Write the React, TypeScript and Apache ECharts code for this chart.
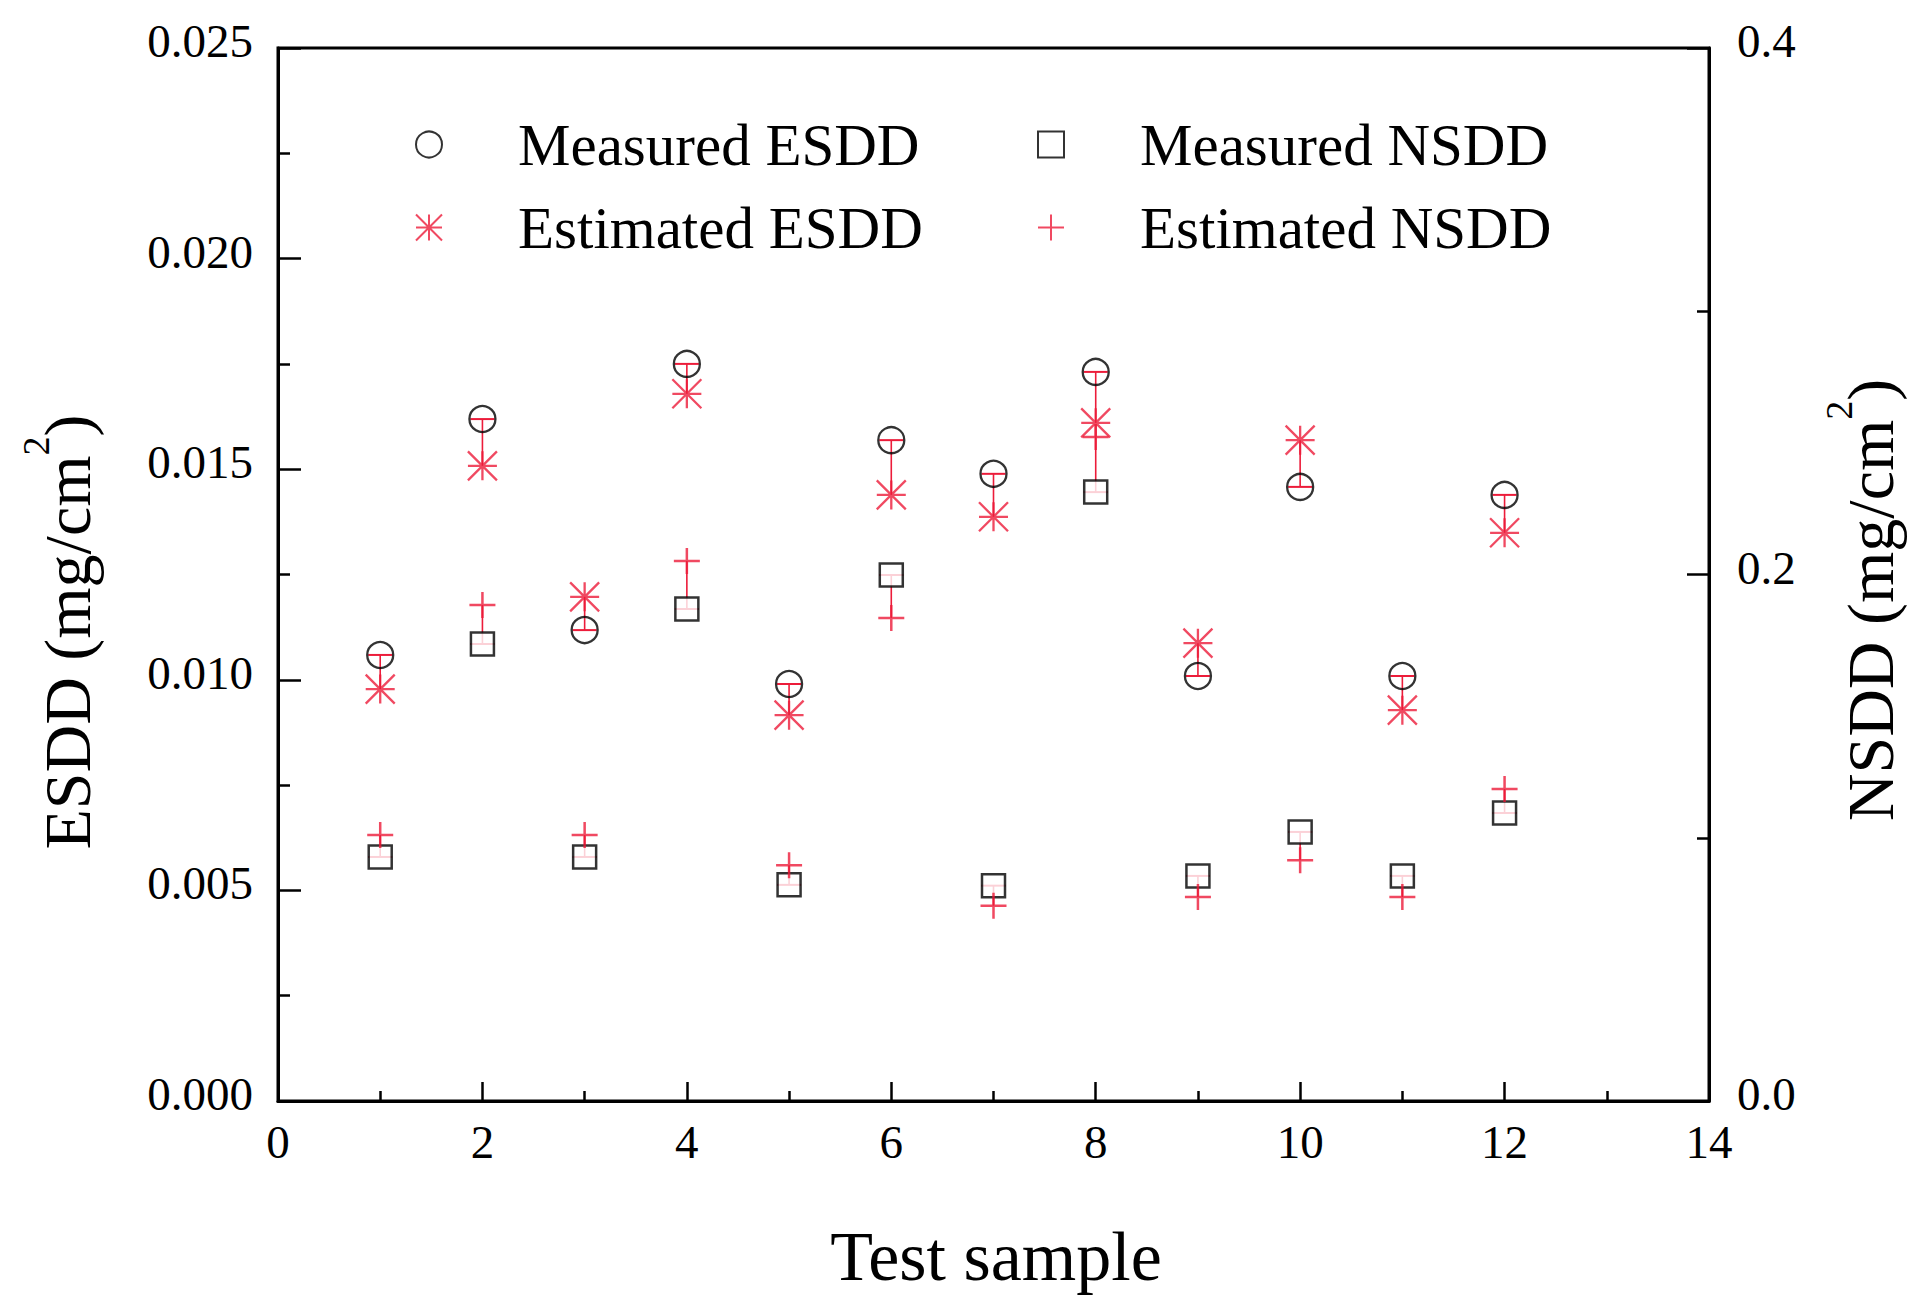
import React, { useEffect, useRef } from "react";
import * as echarts from "echarts";

const samples = [1, 2, 3, 4, 5, 6, 7, 8, 9, 10, 11, 12];
const measuredESDD = [0.01059, 0.01619, 0.01118, 0.0175, 0.0099, 0.01569, 0.01489, 0.01731, 0.01009, 0.01458, 0.01009, 0.01439];
const estimatedESDD = [0.00978, 0.01508, 0.01197, 0.01679, 0.00916, 0.01439, 0.01387, 0.0161, 0.01087, 0.01569, 0.00928, 0.01349];
const measuredNSDD = [0.0927, 0.1736, 0.0927, 0.1869, 0.0821, 0.1998, 0.0818, 0.2313, 0.0855, 0.1022, 0.0855, 0.1094];
const estimatedNSDD = [0.101, 0.1884, 0.101, 0.2051, 0.0896, 0.1835, 0.0742, 0.2522, 0.0775, 0.0915, 0.0775, 0.1185];

const seriesNames = ["Measured ESDD", "Estimated ESDD", "Measured NSDD", "Estimated NSDD"];
const xTitle = "Test sample";
const leftTitle = ["ESDD (mg/cm", "2", ")"];
const rightTitle = ["NSDD (mg/cm", "2", ")"];

const RED = "#ec1c3a";
const FONT = "Liberation Serif";
const ASTERISK = "path://M15,0L15,30M0,15L30,15M0,0L30,30M0,30L30,0";
const PLUS = "path://M13,0L13,26M0,13L26,13";
const SQUARE = "path://M0,0L23,0L23,23L0,23Z";

function errorBarItem(params: any, api: any) {
  const x = api.value(0);
  const est = api.value(1);
  const meas = api.value(2);
  const p1 = api.coord([x, est]);
  const p2 = api.coord([x, meas]);
  return {
    type: "group",
    children: [
      { type: "line", shape: { x1: p1[0], y1: p1[1], x2: p2[0], y2: p2[1] }, style: { stroke: RED, lineWidth: 1.6 } },
      { type: "line", shape: { x1: p2[0] - 12, y1: p2[1], x2: p2[0] + 12, y2: p2[1] }, style: { stroke: RED, lineWidth: 2 } },
    ],
  };
}

function titleRich(parts: string[]) {
  return {
    text: `{a|${parts[0]}}{s|${parts[1]}}{a|${parts[2]}}`,
    rich: {
      a: { fontFamily: FONT, fontSize: 66, lineHeight: 100, fill: "#000", verticalAlign: "middle" },
      s: { fontFamily: FONT, fontSize: 38, lineHeight: 30, fill: "#000", verticalAlign: "top" },
    },
    align: "center",
    verticalAlign: "middle",
  };
}

export default function App() {
  const ref = useRef<HTMLDivElement>(null);
  useEffect(() => {
    document.body.style.margin = "0";
    if (!ref.current) return;
    const chart = echarts.init(ref.current, undefined, { renderer: "svg" });
    const pair = (ys: number[]) => samples.map((s, i) => [s, ys[i]]);
    const bars = (est: number[], meas: number[]) => samples.map((s, i) => [s, est[i], meas[i]]);
    const legendCommon = {
      orient: "vertical",
      itemWidth: 168,
      itemHeight: 26,
      itemGap: 24,
      top: 110,
      selectedMode: false,
      textStyle: { fontFamily: FONT, fontSize: 59, lineHeight: 57, color: "#000" },
    };
    const axisLine = { show: true, onZero: false, lineStyle: { color: "#000", width: 3 } };
    const tickLabel = { fontFamily: FONT, fontSize: 47, color: "#000" };
    const yLabel = { ...tickLabel, verticalAlign: "bottom", lineHeight: 14 };
    chart.setOption({
      animation: false,
      backgroundColor: "#fff",
      grid: { left: 278, right: 220, top: 48, bottom: 210, show: true, borderColor: "#000", borderWidth: 3 },
      legend: [
        { ...legendCommon, data: [seriesNames[0], seriesNames[1]], left: 410 },
        { ...legendCommon, data: [seriesNames[2], seriesNames[3]], left: 1032 },
      ],
      xAxis: {
        type: "value",
        min: 0,
        max: 14,
        interval: 2,
        axisLine,
        splitLine: { show: false },
        axisTick: { inside: true, length: 19, lineStyle: { color: "#000", width: 2.5 } },
        minorTick: { show: true, splitNumber: 2, length: 10, lineStyle: { color: "#000", width: 2.5 } },
        axisLabel: { ...tickLabel, margin: 17 },
      },
      yAxis: [
        {
          type: "value",
          min: 0,
          max: 0.025,
          interval: 0.005,
          position: "left",
          axisLine,
          splitLine: { show: false },
          axisTick: { inside: true, length: 23, lineStyle: { color: "#000", width: 2.5 } },
          minorTick: { show: true, splitNumber: 2, length: 12, lineStyle: { color: "#000", width: 2.5 } },
          axisLabel: { ...yLabel, margin: 25, formatter: (v: number) => v.toFixed(3) },
        },
        {
          type: "value",
          min: 0,
          max: 0.4,
          interval: 0.2,
          position: "right",
          axisLine,
          splitLine: { show: false },
          axisTick: { inside: true, length: 22, lineStyle: { color: "#000", width: 2.5 } },
          minorTick: { show: true, splitNumber: 2, length: 12, lineStyle: { color: "#000", width: 2.5 } },
          axisLabel: { ...yLabel, margin: 28, formatter: (v: number) => v.toFixed(1) },
        },
      ],
      graphic: [
        {
          type: "text",
          x: 996,
          y: 1256,
          style: { text: xTitle, fontFamily: FONT, fontSize: 70, fill: "#000", align: "center", verticalAlign: "middle" },
        },
        { type: "text", x: 67, y: 632, rotation: Math.PI / 2, style: titleRich(leftTitle) },
        { type: "text", x: 1870, y: 600, rotation: Math.PI / 2, style: titleRich(rightTitle) },
      ],
      series: [
        {
          type: "custom",
          name: "esddErr",
          yAxisIndex: 0,
          renderItem: errorBarItem,
          encode: { x: 0, y: [1, 2] },
          data: bars(estimatedESDD, measuredESDD),
          z: 1,
          silent: true,
        },
        {
          type: "custom",
          name: "nsddErr",
          yAxisIndex: 1,
          renderItem: errorBarItem,
          encode: { x: 0, y: [1, 2] },
          data: bars(estimatedNSDD, measuredNSDD),
          z: 1,
          silent: true,
        },
        {
          type: "scatter",
          name: seriesNames[0],
          yAxisIndex: 0,
          symbol: "circle",
          symbolSize: 26,
          itemStyle: { color: "rgba(0,0,0,0)", borderColor: "#000", borderWidth: 2.3 },
          data: pair(measuredESDD),
          z: 3,
        },
        {
          type: "scatter",
          name: seriesNames[1],
          yAxisIndex: 0,
          symbol: ASTERISK,
          symbolSize: 29,
          itemStyle: { color: "rgba(0,0,0,0)", borderColor: RED, borderWidth: 2.3 },
          data: pair(estimatedESDD),
          z: 5,
        },
        {
          type: "scatter",
          name: seriesNames[2],
          yAxisIndex: 1,
          symbol: SQUARE,
          symbolSize: 23,
          itemStyle: { color: "#fff", borderColor: "#000", borderWidth: 2.5 },
          data: pair(measuredNSDD),
          z: 4,
        },
        {
          type: "scatter",
          name: seriesNames[3],
          yAxisIndex: 1,
          symbol: PLUS,
          symbolSize: 26,
          itemStyle: { color: "rgba(0,0,0,0)", borderColor: RED, borderWidth: 2.5 },
          data: pair(estimatedNSDD),
          z: 5,
        },
      ],
    });
    return () => chart.dispose();
  }, []);
  return <div ref={ref} style={{ width: 1929, height: 1311 }} />;
}
